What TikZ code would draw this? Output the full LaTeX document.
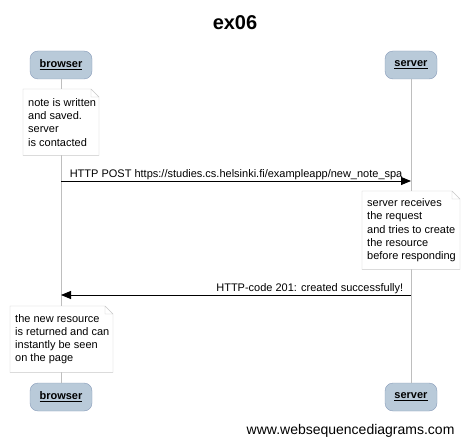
\documentclass[tikz,border=0pt]{standalone}
\usepackage{fontspec}
\setmainfont{Liberation Sans}
\usetikzlibrary{arrows.meta}
\definecolor{actorfill}{RGB}{185,202,217}
\definecolor{actorline}{RGB}{135,155,185}
\definecolor{noteline}{RGB}{200,200,200}
\definecolor{lifegray}{RGB}{190,190,190}
\newcommand{\dogear}[2]% note node, width
{(#1.north west) -- ++(#2-8,0) -- ++(8,8) -- ([xshift=#2pt]#1.south west) -- (#1.south west) -- cycle
 ([xshift=#2pt-8pt]#1.north west) -- ++(0,8) -- ++(8,0)
}

\begin{document}
\begin{tikzpicture}[x=1pt,y=-1pt,
	actor/.style={draw=actorline, fill=actorfill, rounded corners=8pt, minimum height=28pt, inner xsep=0pt, font=\fontsize{11}{13}\selectfont\bfseries},
	note/.style={fill=white, anchor=north west, inner xsep=5pt, inner ysep=0pt, align=left, font=\fontsize{11}{13.3}\selectfont},
	notebox/.style={draw=noteline},
	lifeline/.style={draw=lifegray},
	msg/.style={-{Triangle[length=10pt,width=8pt]}, line width=0.9pt},
	lbl/.style={font=\fontsize{11}{13}\selectfont}]
	\useasboundingbox (0,0) rectangle (469,444);
	\node[font=\fontsize{20}{24}\selectfont\bfseries, anchor=base] (title) at (235,30) {ex06};
	\node[actor, minimum width=62pt] (browserTop) at (61,65) {\underline{browser}};
	\node[actor, minimum width=52pt] (serverTop) at (411,65) {\underline{server}};
	\node[actor, minimum width=62pt] (browserBot) at (61,397) {\underline{browser}};
	\node[actor, minimum width=52pt] (serverBot) at (411,397) {\underline{server}};
	\draw[lifeline] (browserTop) -- (browserBot);
	\draw[lifeline] (serverTop) -- (serverBot);
	% notes
	\node[note, minimum height=66pt] (noteSaved) at (23,89) {note is written\\and saved.\\server\\is contacted};
	\draw[notebox] \dogear{noteSaved}{76};
	\node[note, minimum height=78pt] (noteCreate) at (362,191) {server receives\\the request\\and tries to create\\the resource\\before responding};
	\draw[notebox] \dogear{noteCreate}{98};
	\node[note, minimum height=66pt] (noteShown) at (10,306) {the new resource\\is returned and can\\instantly be seen\\on the page};
	\draw[notebox] \dogear{noteShown}{103};
	% messages
	\coordinate (postFrom) at (browserTop.south |- 0,181);
	\coordinate (postTo) at (serverTop.south |- 0,181);
	\coordinate (replyFrom) at (serverTop.south |- 0,295);
	\coordinate (replyTo) at (browserTop.south |- 0,295);
	\draw[msg] (postFrom) -- (postTo) node[lbl, pos=0, anchor=base west, xshift=5pt, yshift=4pt]{HTTP POST https://studies.cs.helsinki.fi/exampleapp/new\_note\_spa};
	\draw[msg] (replyFrom) -- (replyTo) node[lbl, pos=0, anchor=base east, xshift=-4pt, yshift=4pt]{HTTP-code 201: created successfully!};
	\node[font=\fontsize{14}{17}\selectfont, anchor=base east] (footer) at (458,434) {www.websequencediagrams.com};
\end{tikzpicture}
\end{document}
